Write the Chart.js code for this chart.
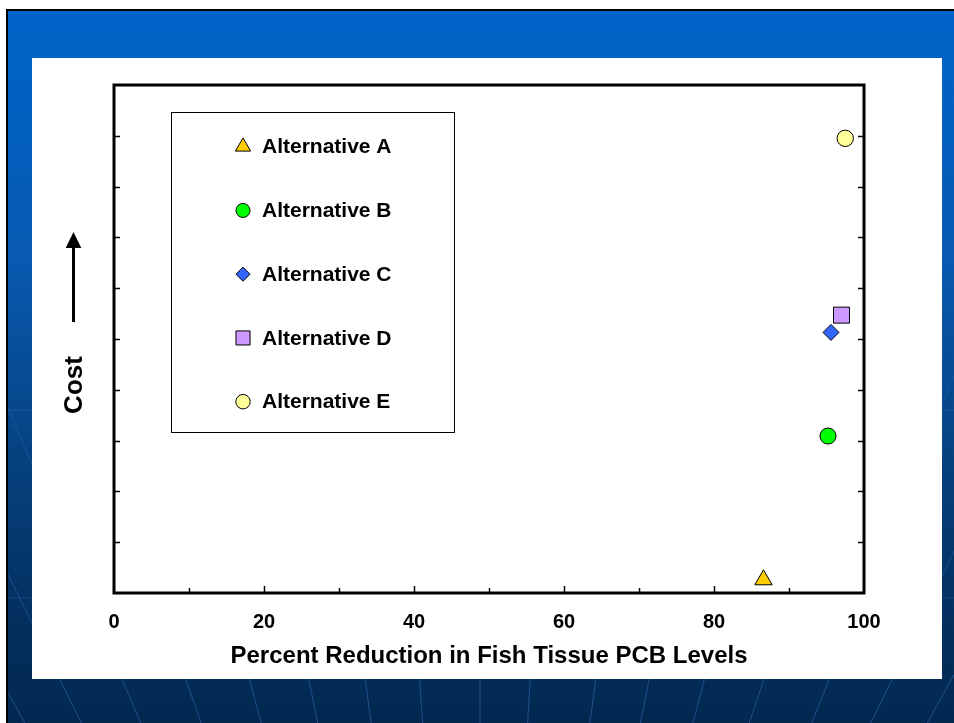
<!DOCTYPE html>
<html>
<head>
<meta charset="utf-8">
<script src="https://cdn.jsdelivr.net/npm/chart.js@4.4.0/dist/chart.umd.min.js"></script>
<style>
  html, body { margin: 0; padding: 0; background: #fff; }
  body { width: 954px; height: 723px; overflow: hidden; position: relative; }
  #slide {
    position: absolute; left: 6px; top: 9px; width: 960px; height: 720px;
    border-top: 2px solid #000; border-left: 2px solid #000; overflow: hidden;
    background: linear-gradient(to bottom, #0064c8 0%, #0062c4 8%, #0859b0 35%, #06427f 62%, #032d5a 88%, #02284f 100%);
  }
  #deco { position: absolute; left: 0; top: 0; }
  #panel { position: absolute; left: 32px; top: 58px; width: 910px; height: 621px; background: #fff; }
</style>
</head>
<body>
<div id="slide"><svg id="deco" width="960" height="720"></svg></div>
<div id="panel"><canvas id="chart" width="910" height="621"></canvas></div>
<script>
'use strict';

// ── Data ──────────────────────────────────────────────────────────────────────

const categories = ['Alternative A', 'Alternative B', 'Alternative C', 'Alternative D', 'Alternative E'];
const reduction  = [86.6, 95.2, 95.6, 97.0, 97.5];   // % reduction in fish tissue PCB
const cost       = [0.26, 3.09, 5.13, 5.47, 8.95];   // relative cost (no scale shown)
const xTicks     = [0, 20, 40, 60, 80, 100];
const xTickMarks = [10, 20, 30, 40, 50, 60, 70, 80, 90];
const yTickMarks = [1, 2, 3, 4, 5, 6, 7, 8, 9];

const xTitle = 'Percent Reduction in Fish Tissue PCB Levels';
const yTitle = 'Cost';

// ── Slide background lines ────────────────────────────────────────────────────

(function drawDeco() {
  const svg = document.getElementById('deco');
  const ox = 8, oy = 11;                 // slide content origin in page coords
  const vx = 480, vy = 1530;             // vanishing point (page coords)
  const at700 = [12, 70, 131, 193, 255, 313, 368, 421, 480, 529, 593, 645, 699, 757, 821, 882, 940];
  let s = `<defs><linearGradient id="fade" gradientUnits="userSpaceOnUse" x1="0" y1="150" x2="0" y2="700">
    <stop offset="0" stop-color="rgb(70,140,225)" stop-opacity="0"/>
    <stop offset="1" stop-color="rgb(70,140,225)" stop-opacity="0.4"/></linearGradient></defs>`;
  at700.forEach(x => {
    const k = (vy + 10) / (vy - 700);
    const xt = vx + (x - vx) * k;
    s += `<line x1="${vx - ox}" y1="${vy - oy}" x2="${xt - ox}" y2="${-10 - oy}" stroke="url(#fade)" stroke-width="1"/>`;
  });
  [410, 598].forEach(y => {
    s += `<line x1="0" y1="${y - oy}" x2="960" y2="${y - oy}" stroke="rgba(70,140,225,0.25)" stroke-width="1"/>`;
  });
  svg.innerHTML = s;
})();

// ── Chart ─────────────────────────────────────────────────────────────────────

const FONT = "'Liberation Sans', Arial, Helvetica, sans-serif";

const looks = [
  { style: 'triangle', color: '#ffcc00', r: 10 },
  { style: 'circle',   color: '#00ff00', r: 8 },
  { style: 'rectRot',  color: '#3366ff', r: 8 },
  { style: 'rect',     color: '#cc99ff', r: 11.3 },
  { style: 'circle',   color: '#ffff99', r: 8.2 },
];

const datasets = categories.map((name, i) => ({
  label: name,
  data: [{ x: reduction[i], y: cost[i] }],
  pointStyle: looks[i].style,
  pointRadius: looks[i].r,
  backgroundColor: looks[i].color,
  borderColor: '#000',
  borderWidth: 1,
  clip: false,
}));

// plot frame with inward tick marks
const framePlugin = {
  id: 'frame',
  beforeDatasetsDraw(chart) {
    const { ctx, chartArea: { left, right, top, bottom }, scales: { x, y } } = chart;
    ctx.save();
    ctx.strokeStyle = '#000';
    ctx.lineWidth = 1.5;
    ctx.beginPath();
    xTickMarks.forEach(v => {
      const px = Math.round(x.getPixelForValue(v)) + 0.5;
      const len = v % 20 === 0 ? 7 : 5;
      ctx.moveTo(px, bottom); ctx.lineTo(px, bottom - len);
    });
    yTickMarks.forEach(v => {
      const py = Math.round(y.getPixelForValue(v)) + 0.5;
      ctx.moveTo(left, py); ctx.lineTo(left + 6, py);
      ctx.moveTo(right, py); ctx.lineTo(right - 6, py);
    });
    ctx.stroke();
    ctx.lineWidth = 3;
    ctx.strokeRect(left, top, right - left, bottom - top);
    ctx.restore();
  },
};

// boxed legend inside plot + "Cost" label with arrow
const annotPlugin = {
  id: 'annot',
  afterDraw(chart) {
    const { ctx } = chart;
    ctx.save();

    ctx.strokeStyle = '#000';
    ctx.lineWidth = 1;
    ctx.strokeRect(139.5, 54.5, 283, 320);

    ctx.font = `bold 21px ${FONT}`;
    ctx.textBaseline = 'middle';
    ctx.textAlign = 'left';
    chart.data.datasets.forEach((ds, i) => {
      const cy = 88.7 + i * 63.75;
      ctx.fillStyle = ds.backgroundColor;
      ctx.strokeStyle = '#000';
      ctx.lineWidth = 1;
      Chart.helpers.drawPoint(ctx, { pointStyle: ds.pointStyle, radius: ds.pointRadius * 0.88, borderWidth: 1 }, 211, cy);
      ctx.fillStyle = '#000';
      ctx.fillText(ds.label, 230, cy + 1);
    });

    // y axis label
    ctx.translate(42, 327);
    ctx.rotate(-Math.PI / 2);
    ctx.font = `bold 26px ${FONT}`;
    ctx.textAlign = 'center';
    ctx.fillStyle = '#000';
    ctx.fillText(yTitle, 0, 1);
    ctx.restore();

    // arrow
    ctx.save();
    ctx.strokeStyle = '#000';
    ctx.fillStyle = '#000';
    ctx.lineWidth = 3;
    ctx.beginPath();
    ctx.moveTo(41.5, 264); ctx.lineTo(41.5, 186);
    ctx.stroke();
    ctx.beginPath();
    ctx.moveTo(41.5, 174); ctx.lineTo(49.3, 190); ctx.lineTo(33.7, 190); ctx.closePath();
    ctx.fill();
    ctx.restore();
  },
};

new Chart(document.getElementById('chart'), {
  type: 'scatter',
  data: { datasets },
  options: {
    responsive: false,
    animation: false,
    layout: { padding: { top: 27, right: 78, left: 0, bottom: 0 } },
    plugins: { legend: { display: false }, tooltip: { enabled: false } },
    scales: {
      x: {
        type: 'linear', min: 0, max: 100,
        grid: { display: false, drawTicks: false },
        border: { display: false },
        afterBuildTicks: axis => { axis.ticks = xTicks.map(v => ({ value: v })); },
        afterFit: s => { s.height = 86; },
        ticks: { padding: 17, color: '#000', maxRotation: 0, font: { family: FONT, size: 20, weight: 'bold' } },
        title: {
          display: true, text: xTitle, color: '#000',
          font: { family: FONT, size: 24, weight: 'bold' },
          padding: { top: 0, bottom: 8.6 },
        },
      },
      y: {
        type: 'linear', min: 0, max: 10,
        grid: { display: false, drawTicks: false },
        border: { display: false },
        ticks: { display: false },
        afterFit: s => { s.width = 82; },
      },
    },
  },
  plugins: [framePlugin, annotPlugin],
});
</script>
</body>
</html>
